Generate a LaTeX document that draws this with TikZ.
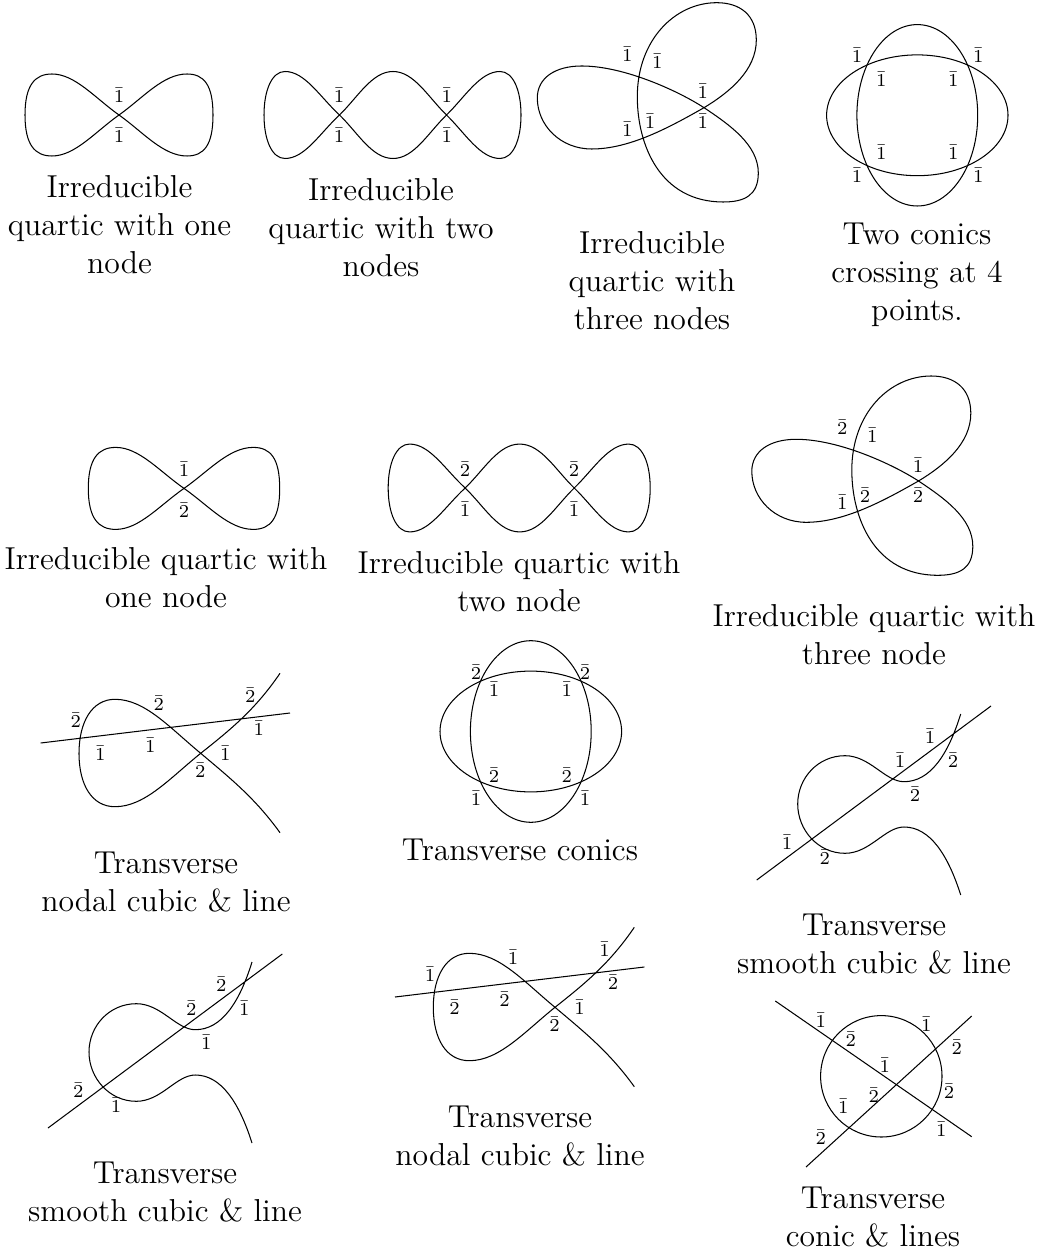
\documentclass[tikz,border=0pt,12pt]{standalone}
\newcounter{labn}
\newcommand{\lab}[3]{\stepcounter{labn}\node[lab] (lab\thelabn) at (#1,#2) {$\bar{#3}$};}
\newcounter{capn}
\newcommand{\capt}[3]{\stepcounter{capn}\node[capt] (cap\thecapn) at (#1,#2) {#3};}
\tikzset{
  lab/.style={inner sep=0pt,font=\fontsize{7}{8}\selectfont},
  capt/.style={inner sep=0pt,align=center,font=\fontsize{12.2}{14.6}\selectfont},
  curve/.style={draw,line width=0.4pt,line join=round}
}
\newcommand{\figeight}{
  (119,115) .. controls (95,98) and (75,74) .. (52,74)
  .. controls (35,74) and (25,85) .. (25,115)
  .. controls (25,145) and (35,156) .. (52,156)
  .. controls (75,156) and (95,132) .. (119,115)
  .. controls (143,98) and (163,74) .. (187,74)
  .. controls (204,74) and (213,85) .. (213,115)
  .. controls (213,145) and (204,156) .. (187,156)
  .. controls (163,156) and (143,132) .. (119,115) -- cycle}
\newcommand{\twonode}{
  (339.5,115) .. controls (320,97) and (305,71.5) .. (285,71.5)
  .. controls (272,71.5) and (264,90) .. (264,115)
  .. controls (264,140) and (272,158.5) .. (285,158.5)
  .. controls (305,158.5) and (320,133) .. (339.5,115)
  .. controls (358,97) and (372,71.5) .. (393,71.5)
  .. controls (414,71.5) and (428,97) .. (446.5,115)
  .. controls (465,133) and (480,158.5) .. (500,158.5)
  .. controls (513,158.5) and (521,140) .. (521,115)
  .. controls (521,90) and (513,71.5) .. (500,71.5)
  .. controls (480,71.5) and (465,97) .. (446.5,115)
  .. controls (428,133) and (414,158.5) .. (393,158.5)
  .. controls (372,158.5) and (358,133) .. (339.5,115) -- cycle}
\newcommand{\threenode}{
  (704,107.7) .. controls (730,92) and (756.3,70) .. (756.3,40)
  .. controls (756.3,15) and (740,2.7) .. (716.7,2.7)
  .. controls (675,2.7) and (637.3,40) .. (637.3,96.7)
  .. controls (637.3,145) and (660,202) .. (723.3,202)
  .. controls (745,202) and (758.3,195) .. (758.3,173)
  .. controls (758.3,145) and (730,125) .. (704,107.7)
  .. controls (680,92) and (625,66) .. (581.7,66)
  .. controls (555,66) and (537.3,78) .. (537.3,98)
  .. controls (537.3,125) and (560,149) .. (591.7,149)
  .. controls (630,149) and (670,127) .. (704,107.7) -- cycle}
\newcommand{\nodal}{
  (280,673.3) .. controls (255,710) and (230,730) .. (200.7,753.3)
  .. controls (170,778) and (145,806.7) .. (115,806.7)
  .. controls (92,806.7) and (79,785) .. (79,753.3)
  .. controls (79,722) and (92,699.3) .. (115,699.3)
  .. controls (145,699.3) and (170,728) .. (200.7,753.3)
  .. controls (230,778) and (255,798) .. (280,832.7)
  (40.7,743) -- (290,713)}
\newcommand{\smoothc}{
  (960.7,714) .. controls (948,755) and (930,781.7) .. (904,781.7)
  .. controls (885,781.7) and (870,755.7) .. (845,755.7)
  .. controls (818,755.7) and (797.7,778) .. (797.7,804)
  .. controls (797.7,830) and (818,853.3) .. (845,853.3)
  .. controls (870,853.3) and (885,827) .. (904,827)
  .. controls (930,827) and (948,855) .. (960.7,895)
  (756.7,880) -- (991,706)}
\begin{document}
\begin{tikzpicture}[x=0.3846pt,y=-0.3846pt]
\useasboundingbox (0,0) rectangle (1043,1254);
% row 1
\path[curve] \figeight;
\lab{119}{95.7}{1}\lab{119}{135.7}{1}
\capt{119.5}{224.5}{Irreducible\\quartic with one\\node}
\path[curve] \twonode;
\lab{339}{95.7}{1}\lab{339}{135.7}{1}\lab{446.7}{95.7}{1}\lab{446.7}{135.7}{1}
\capt{381}{228}{Irreducible\\quartic with two\\nodes}
\path[curve] \threenode;
\lab{627.3}{54}{1}\lab{657.3}{61}{1}\lab{702.7}{91.7}{1}\lab{702.7}{121.3}{1}\lab{627.3}{129}{1}\lab{650}{121.3}{1}
\capt{652}{281}{Irreducible\\quartic with\\three nodes}
\path[curve] (917.3,115.3) ellipse [x radius=90.7,y radius=60.4];
\path[curve] (917.3,115.3) ellipse [x radius=60.4,y radius=90.7];
\lab{857}{55}{1}\lab{978.3}{55}{1}\lab{881.3}{79}{1}\lab{953.3}{79}{1}\lab{881.3}{152}{1}\lab{953.3}{152}{1}\lab{857}{175.7}{1}\lab{978.3}{175.7}{1}
\capt{917}{275}{Two conics\\crossing at 4\\points.}
% row 2
\begin{scope}[shift={(184,488.4)},xscale=1.018,shift={(-119,-115)}]
\path[curve] \figeight;
\end{scope}
\lab{184}{469}{1}\lab{184}{510}{2}
\capt{166}{578}{Irreducible quartic with\\one node}
\begin{scope}[shift={(519.7,488)},xscale=1.0195,yscale=1.01,shift={(-393,-115)}]
\path[curve] \twonode;
\end{scope}
\lab{465}{469}{2}\lab{465}{509.5}{1}\lab{574}{469}{2}\lab{574}{509.5}{1}
\capt{519}{582}{Irreducible quartic with\\two node}
\begin{scope}[shift={(214.5,373.3)}]
\path[curve] \threenode;
\end{scope}
\lab{842.3}{427.3}{2}\lab{872.3}{435}{1}\lab{918}{465}{1}\lab{918}{495}{2}\lab{842.3}{502.3}{1}\lab{865}{495}{2}
\capt{874}{635}{Irreducible quartic with\\three node}
% row 3
\path[curve] \nodal;
\lab{75.7}{720}{2}\lab{158.7}{703.3}{2}\lab{250.3}{695}{2}\lab{258.7}{728.3}{1}\lab{100.3}{753.3}{1}\lab{150.3}{745}{1}\lab{225.3}{753.3}{1}\lab{200.3}{770}{2}
\capt{166}{882}{Transverse\\nodal cubic \& line}
\path[curve] (530.8,731.5) ellipse [x radius=90.8,y radius=60.4];
\path[curve] (530.8,731.5) ellipse [x radius=60.4,y radius=90.8];
\lab{476}{672.3}{2}\lab{585}{672.3}{2}\lab{494}{689.3}{1}\lab{566.7}{689.3}{1}\lab{494}{775}{2}\lab{566.7}{775}{2}\lab{476}{798.3}{1}\lab{585}{798.3}{1}
\capt{520}{850}{Transverse conics}
\path[curve] \smoothc;
\lab{787}{842.3}{1}\lab{824.7}{857.7}{2}\lab{900}{760}{1}\lab{915}{794}{2}\lab{930}{736.7}{1}\lab{953}{760}{2}
\capt{874}{944}{Transverse\\smooth cubic \& line}
% row 4
\begin{scope}[shift={(-708.7,248)}]
\path[curve] \smoothc;
\end{scope}
\lab{78.3}{1090.3}{2}\lab{116}{1105.7}{1}\lab{191.3}{1008}{2}\lab{206.3}{1042}{1}\lab{221.3}{984.7}{2}\lab{244.3}{1008}{1}
\capt{165}{1192}{Transverse\\smooth cubic \& line}
\begin{scope}[shift={(354.3,254)}]
\path[curve] \nodal;
\end{scope}
\lab{430}{974}{1}\lab{513}{957.3}{1}\lab{604.6}{949}{1}\lab{613}{982.3}{2}\lab{454.6}{1007.3}{2}\lab{504.6}{999}{2}\lab{579.6}{1007.3}{1}\lab{554.6}{1024}{2}
\capt{520}{1136}{Transverse\\nodal cubic \& line}
\path[curve] (881.3,1076.3) circle [radius=60.7];
\path[curve] (775.3,1001) -- (971.7,1136.7);
\path[curve] (806,1167) -- (971.7,1016);
\lab{820.7}{1020}{1}\lab{850.7}{1039.3}{2}\lab{926.3}{1024}{1}\lab{956.7}{1047.3}{2}\lab{884.7}{1065.3}{1}\lab{873.7}{1095.7}{2}\lab{949}{1091.7}{2}\lab{843.3}{1106.7}{1}\lab{941.3}{1129.3}{1}\lab{820.7}{1137.7}{2}
\capt{873}{1217}{Transverse\\conic \& lines}
\end{tikzpicture}
\end{document}
